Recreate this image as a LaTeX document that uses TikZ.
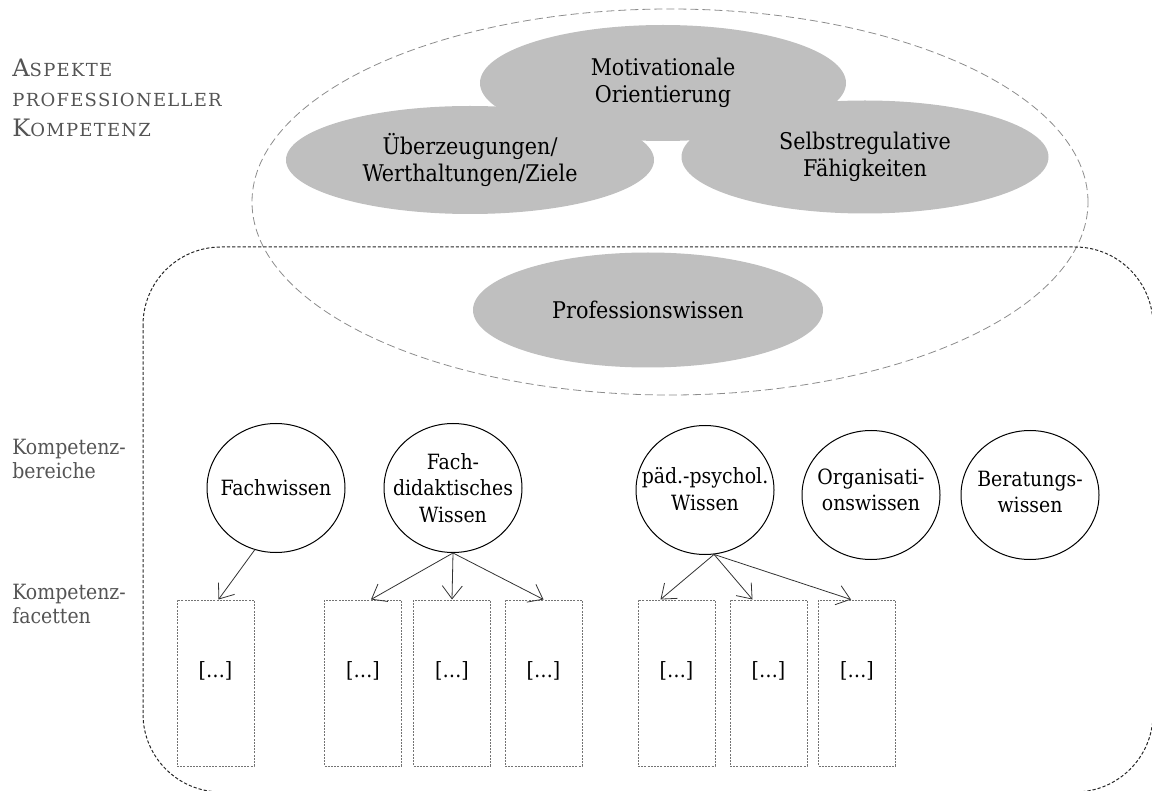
\documentclass[tikz,border=0pt]{standalone}
\usepackage{fontspec}
\setmainfont{DejaVu Serif Condensed}
\newfontfamily\titelfont{DejaVu Serif}[LetterSpace=7]
\usetikzlibrary{arrows.meta,shapes.geometric}

\definecolor{fuellgrau}{gray}{0.75}
\definecolor{textgrau}{gray}{0.33}

\newcommand{\klein}[1]{{\fontsize{9}{15}\selectfont #1}}

\begin{document}
\begin{tikzpicture}[x=0.5pt,y=-0.5pt,
    aspekt/.style={ellipse, fill=fuellgrau, inner sep=0pt, align=center, font=\fontsize{11.5}{13.5}\selectfont},
    bereich/.style={ellipse, draw, line width=0.5pt, minimum width=69pt, minimum height=64.5pt, inner sep=0pt},
    bereichtext/.style={align=center, font=\fontsize{10.5}{13.2}\selectfont},
    facette/.style={draw=black!55, dash pattern=on 1pt off 0.6pt, line width=0.5pt, minimum width=38.5pt, minimum height=83pt, inner sep=0pt, text height=7.5pt, text depth=13.5pt, font=\fontsize{10.5}{12}\selectfont},
    pfeil/.style={-{Straight Barb[length=6.5pt,width=10pt]}, line width=0.4pt, black!80},
    seite/.style={anchor=west, align=left, inner xsep=0pt, textgrau, font=\fontsize{10.5}{12}\selectfont}]

    \useasboundingbox (0,0) rectangle (1152,791);

    % labels on the left
    \node[seite, font=\titelfont\fontsize{12}{15}\selectfont] (titel) at (12,98) {A\klein{SPEKTE}\\\klein{PROFESSIONELLER}\\K\klein{OMPETENZ}};
    \node[seite] (lbereiche) at (12,459) {Kompetenz-\\bereiche};
    \node[seite] (lfacetten) at (12,604) {Kompetenz-\\facetten};

    % aspects
    \node[aspekt, minimum width=183pt, minimum height=58pt] (mot) at (663,83) {Motivationale\\Orientierung};
    \node[aspekt, minimum width=184pt, minimum height=54pt] (ueb) at (470,160) {Überzeugungen/\\Werthaltungen/Ziele};
    \node[aspekt, minimum width=183.5pt, minimum height=56.5pt] (sel) at (865,157) {Selbstregulative\\Fähigkeiten};
    \node[aspekt, minimum width=175pt, minimum height=57.5pt] (pro) at (648,310) {Professionswissen};

    % dashed outlines
    \node[ellipse, draw=black!45, dash pattern=on 4pt off 2pt, line width=0.4pt, minimum width=418pt, minimum height=193pt] (aspekte) at (670,202) {};
    \draw[black!85, dash pattern=on 1.6pt off 1pt, line width=0.5pt, rounded corners=39pt] (143,247) rectangle (1153,792);

    %%%%%%%%%%%%%%%%%%%%%%%%%%%%%%%%%%%%%%%%%%%%%%%%%%%%%%%%%

    % competence areas
    \node[bereich] (fw) at (276,488) {};
    \node[bereichtext] (fwt) at (fw) {Fachwissen};
    \node[bereich] (fd) at (453,488) {};
    \node[bereichtext] (fdt) at (fd) {Fach-\\didaktisches\\Wissen};
    \node[bereich] (pp) at (705,490) {};
    \node[bereichtext] (ppt) at (705,489) {päd.-psychol.\\Wissen};
    \node[bereich] (org) at (871,495) {};
    \node[bereichtext] (orgt) at (871,490) {Organisati-\\onswissen};
    \node[bereich] (ber) at (1030,495) {};
    \node[bereichtext] (bert) at (1030,492) {Beratungs-\\wissen};

    % competence facets
    \node[facette] (f1) at (215.5,683) {[…]};
    \node[facette] (f2) at (363,683) {[…]};
    \node[facette] (f3) at (452,683) {[…]};
    \node[facette] (f4) at (543.5,683) {[…]};
    \node[facette] (f5) at (676.5,683) {[…]};
    \node[facette] (f6) at (768.5,683) {[…]};
    \node[facette] (f7) at (857,683) {[…]};

    % arrows
    \draw[pfeil] (fw.251) to ([xshift=1.5pt]f1.north);
    \draw[pfeil] (fd.south) to ([xshift=4pt]f2.north);
    \draw[pfeil] (fd.south) to (f3.north);
    \draw[pfeil] (fd.south) to (f4.north);
    \draw[pfeil] (pp.-82) to ([xshift=-8pt]f5.north);
    \draw[pfeil] (pp.-82) to ([xshift=-8pt]f6.north);
    \draw[pfeil] (pp.-82) to ([xshift=-3pt]f7.north);

\end{tikzpicture}
\end{document}
